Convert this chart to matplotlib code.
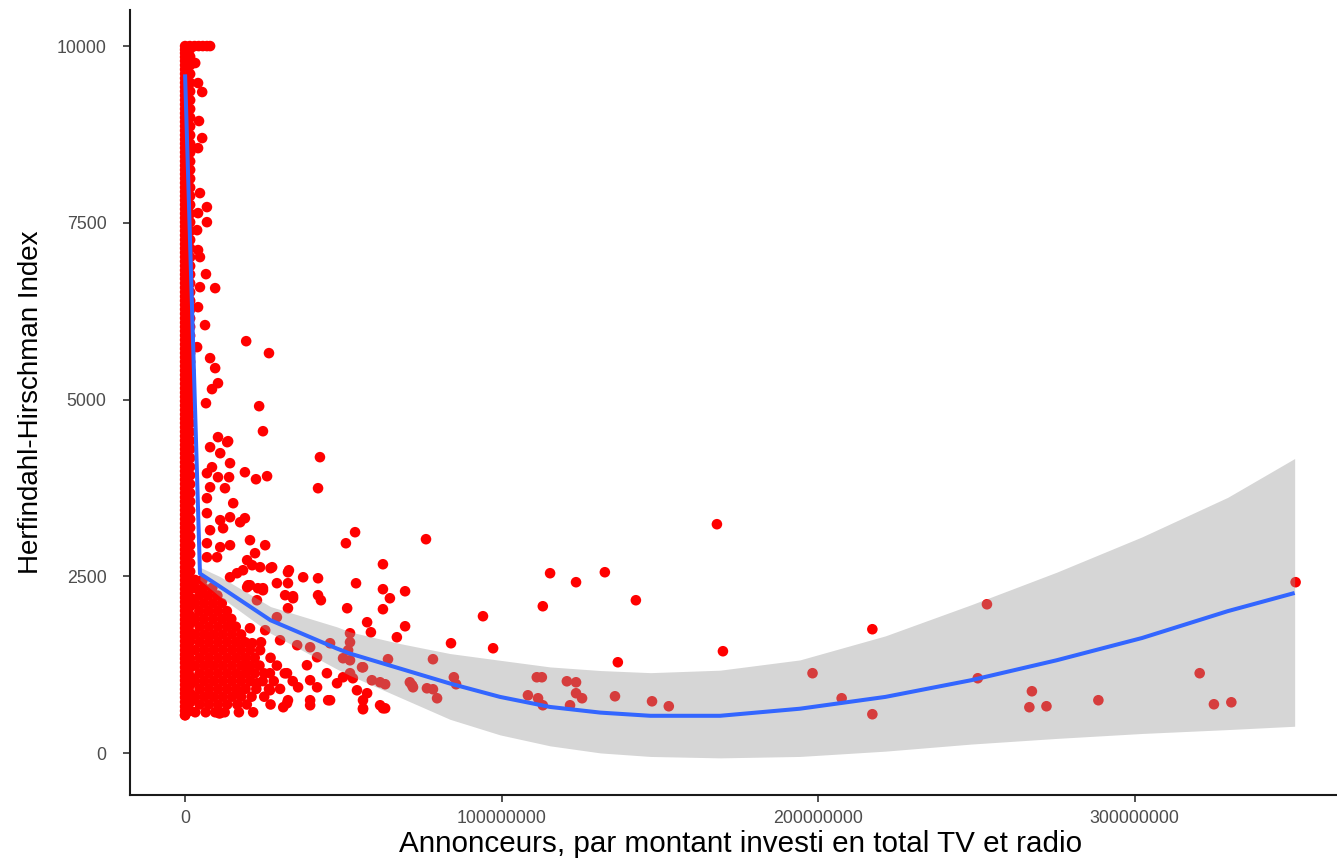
import numpy as np
import matplotlib
matplotlib.use("Agg")
import matplotlib.pyplot as plt
from matplotlib.ticker import FixedLocator, FuncFormatter

plt.rcParams['font.family'] = ['Liberation Sans', 'DejaVu Sans']

# ---- advertisers: total TV + radio spend (millions) vs HHI ----
# dense column of advertisers with almost no spend
col_x = [0.0] * 40 + [1.6] * 40
col_y = [540, 660, 790, 905, 1030, 1150, 1280, 1395, 1520, 1650, 1770, 1890, 2015, 2140,
         2260, 2385, 2510, 2630, 2760, 2880, 3005, 3130, 3250, 3375, 3500, 3620, 3745, 3870,
         3990, 4115, 4240, 4360, 4485, 4610, 4730, 4855, 4980, 5100, 5225, 5350,
         600, 720, 850, 965, 1090, 1210, 1340, 1455, 1580, 1710, 1830, 1950, 2075, 2200,
         2320, 2445, 2570, 2690, 2820, 2940, 3065, 3190, 3310, 3435, 3560, 3680, 3805, 3930,
         4050, 4175, 4300, 4420, 4545, 4670, 4790, 4915, 5040, 5160, 5285, 5410]
top_x = [0.0] * 38 + [1.6] * 37
top_y = [5475, 5600, 5720, 5845, 5970, 6090, 6215, 6340, 6460, 6585, 6710, 6830, 6955,
         7080, 7200, 7325, 7450, 7570, 7695, 7820, 7940, 8065, 8190, 8310, 8435, 8560,
         8680, 8805, 8930, 9050, 9175, 9300, 9420, 9545, 9670, 9790, 9900, 10000,
         5535, 5660, 5780, 5905, 6030, 6150, 6275, 6400, 6520, 6645, 6770, 6890, 7015,
         7140, 7260, 7385, 7510, 7630, 7755, 7880, 8000, 8125, 8250, 8370, 8495, 8620,
         8740, 8865, 8990, 9110, 9235, 9360, 9480, 9605, 9730, 9850, 9960]
# more zero-spend advertisers filling the same column
zero_y = [600, 725, 848, 968, 1090, 1215, 1338, 1458, 1585, 1710, 1830, 1952, 2078,
          2200, 2322, 2448, 2570, 2695, 2820, 2942, 3068, 3190, 3312, 3438, 3560, 3682,
          3808, 3930, 4052, 4178, 4300, 4422, 4548, 4670, 4792, 4918, 5040, 5162, 5288,
          5412, 5538, 5660, 5782, 5908, 6030, 6152, 6278, 6400, 6522, 6648, 6770, 6892,
          7018, 7140, 7262, 7388, 7510, 7632, 7758, 7880, 8002, 8128, 8250, 8372, 8498,
          8620, 8742, 8868, 8990, 9112, 9238, 9360, 9482, 9608, 9730, 9845, 9950]
zero_x = [0.0] * len(zero_y)

# packed block of small advertisers with lower concentration
block_x = [3.2, 5.5,
           3.2, 5.8, 8.6,
           4.5, 7.3, 10.2,
           3.2, 6.0, 8.8, 11.6,
           4.5, 7.4, 10.3, 13.2,
           3.2, 6.0, 8.9, 11.8, 14.6,
           4.6, 7.5, 10.4, 13.3, 16.0,
           3.2, 6.1, 9.0, 11.9, 14.8, 17.7,
           4.6, 7.5, 10.4, 13.3, 16.2, 19.0, 24.0,
           3.2, 6.1, 9.0, 11.9, 14.8, 17.6, 20.5,
           4.6, 7.5, 10.4, 13.3, 16.2, 19.1, 22.0, 27.0,
           3.2, 6.1, 9.0, 11.9, 14.8, 17.7, 20.6, 23.5, 29.0,
           4.6, 7.5, 10.4, 13.3, 16.2, 19.1, 22.0, 25.0, 31.5,
           3.2, 6.1, 9.0, 11.9, 14.8, 17.7, 20.6, 24.5, 28.0, 34.0,
           4.6, 7.5, 10.4, 13.3, 16.2, 19.1, 22.5, 26.5, 30.0,
           3.2, 6.1, 9.0, 11.9, 14.8, 17.7, 21.0, 25.0,
           4.6, 7.5, 10.4, 13.3, 16.5, 19.5, 27.0,
           3.2, 6.5, 9.5, 12.5, 17.0]
block_y = [2450, 2450,
           2340, 2340, 2340,
           2230, 2230, 2230,
           2120, 2120, 2120, 2120,
           2010, 2010, 2010, 2010,
           1900, 1900, 1900, 1900, 1900,
           1790, 1790, 1790, 1790, 1790,
           1680, 1680, 1680, 1680, 1680, 1680,
           1570, 1570, 1570, 1570, 1570, 1570, 1570,
           1460, 1460, 1460, 1460, 1460, 1460, 1460,
           1350, 1350, 1350, 1350, 1350, 1350, 1350, 1350,
           1240, 1240, 1240, 1240, 1240, 1240, 1240, 1240, 1240,
           1130, 1130, 1130, 1130, 1130, 1130, 1130, 1130, 1130,
           1020, 1020, 1020, 1020, 1020, 1020, 1020, 1020, 1020, 1020,
           910, 910, 910, 910, 910, 910, 910, 910, 910,
           800, 800, 800, 800, 800, 800, 800, 800,
           690, 690, 690, 690, 690, 690, 690,
           580, 580, 580, 580, 580]

# individual advertisers
pts_x = [1.5, 3.0, 4.3, 5.6, 6.9, 7.9,
         3.2, 4.1, 5.4, 4.4, 5.4, 4.1, 4.7, 6.9, 6.9, 4.1, 3.8, 4.1, 4.7, 6.6, 9.5, 4.7,
         4.1, 6.3, 3.8, 7.9, 9.5, 10.4, 8.5, 6.6, 13.3, 10.4, 7.9, 11.1, 14.2, 8.5, 6.9,
         10.4, 13.9, 7.9, 12.6, 6.9, 15.2, 6.9, 11.1, 14.2, 17.4, 18.9, 7.9, 12.0, 6.9,
         11.1, 14.2, 20.5, 25.3, 6.9, 10.1, 19.6, 22.1, 21.2, 23.7, 18.3, 14.2, 16.4,
         19.9, 24.6, 29.0, 32.8, 37.3, 27.5, 19.6, 23.0, 34.1,
         19.3, 26.5, 23.4, 24.6, 42.6, 42.0, 18.9, 22.4, 25.9, 13.6, 53.7, 50.8, 76.1,
         62.5, 54.0, 62.5, 64.7, 69.5, 62.5, 42.0, 42.0, 42.9, 51.2, 57.5, 69.5, 58.7,
         66.9, 52.1, 52.1, 51.5, 45.8, 94.1, 84.0, 97.3, 115.3, 113.0, 123.5, 132.6,
         142.4, 168.0, 169.9, 136.7, 135.8, 147.5, 152.8, 108.3, 111.1, 112.7, 111.5,
         113.0, 120.6, 123.5, 123.5, 125.4, 121.6, 64.1, 61.6, 63.2, 62.5, 71.0, 72.0,
         78.3, 84.9, 85.6, 76.4, 78.3, 79.6, 55.9, 53.0, 59.0, 71.7, 54.3, 57.5, 61.6,
         56.2, 63.2, 52.1, 49.9, 56.2, 39.5, 45.8, 32.2, 21.5, 10.7, 0.0,
         32.5, 27.0, 32.5, 20.5, 24.6, 22.7, 31.6, 34.1, 32.5, 29.0, 20.5, 21.2, 25.3,
         30.0, 35.4, 39.5, 41.7, 49.9, 38.5, 32.2, 26.8, 39.5, 44.8, 52.1, 56.2, 35.7,
         41.7, 48.0, 32.5, 39.5, 45.2, 11.1, 31.0, 56.2, 16.4, 22.7, 26.8, 23.7, 19.6,
         207.4, 217.1, 217.1, 198.2, 253.3, 250.4, 267.5, 266.7, 272.1, 288.5, 320.5,
         325.0, 330.5, 350.8]
pts_y = [10000, 10000, 10000, 10000, 10000, 10000,
         9760, 9477, 9350, 8940, 8699, 8557, 7921, 7723, 7510, 7638, 7397, 7115, 7016,
         6775, 6577, 6591, 6308, 6054, 5743, 5587, 5446, 5233, 5149, 4950, 4399, 4470,
         4328, 4243, 4102, 4045, 3960, 3904, 3904, 3762, 3748, 3607, 3536, 3395, 3296,
         3338, 3267, 3324, 3154, 3182, 2970, 2914, 2942, 3013, 2942, 2772, 2772, 2730,
         2829, 2659, 2631, 2588, 2489, 2546, 2376, 2334, 2405, 2588, 2489, 2631, 2348,
         2334, 2221,
         5827, 5658, 4908, 4554, 4187, 3748, 3974, 3875, 3918, 4413, 3126, 2970, 3027,
         2673, 2404, 2320, 2192, 2291, 2037, 2475, 2235, 2164, 2051, 1853, 1796, 1711,
         1641, 1570, 1697, 1457, 1556, 1938, 1556, 1485, 2546, 2079, 2419, 2560,
         2164, 3239, 1443, 1287, 806, 735, 665, 820, 1075, 1075, 778,
         679, 1018, 1004, 849, 778, 679, 1330, 1004, 976, 636, 1004, 933,
         1330, 1075, 976, 919, 905, 778, 1216, 1061, 1033, 962, 891, 849, 679,
         622, 636, 1315, 1075, 750, 679, 750, 707, 580, 566, 537,
         2560, 2617, 2405, 2376, 2305, 2164, 2235, 2192, 2051, 1924, 1768, 1556, 1740,
         1598, 1528, 1499, 1358, 1344, 1245, 1132, 1132, 1033, 1132, 1132, 1216, 933,
         933, 990, 750, 750, 750, 566, 651, 636, 849, 990, 891, 1457, 1216,
         778, 1754, 552, 1132, 2107, 1061, 877, 651, 665, 750, 1132,
         693, 721, 2419]

# smoothed trend with its confidence band
fit_x = [0, 4.7, 11, 27, 48, 52.1, 67.9, 83.7, 99.5, 115.3, 131.2, 147, 169, 194.2,
         221.2, 248.3, 275.3, 302.3, 329.4, 350.5]
fit_y = [9600, 2541, 2357, 1881, 1480, 1410, 1198, 986, 797, 655, 575, 530, 530, 630,
         797, 1033, 1315, 1630, 2010, 2267]
fit_hi = [9680, 2630, 2499, 2074, 1787, 1716, 1551, 1410, 1315, 1221, 1170, 1140, 1175,
          1320, 1660, 2100, 2560, 3060, 3620, 4168]
fit_lo = [9520, 2450, 2215, 1697, 1190, 1100, 790, 480, 260, 105, 5, -45, -65, -45,
          30, 130, 210, 280, 335, 382]

x_ticks = [0, 100000000, 200000000, 300000000]
y_ticks = [0, 2500, 5000, 7500, 10000]

M = 1e6
all_x = np.concatenate([col_x, top_x, zero_x, block_x, pts_x]) * M
all_y = np.concatenate([col_y, top_y, zero_y, block_y, pts_y])

fig = plt.figure(figsize=(13.37, 8.59), dpi=100)
# the panel runs slightly past the right edge of the canvas
ax = fig.add_axes([130 / 1337, 64 / 859, 1221 / 1337, 785 / 859])

ax.scatter(all_x, all_y, s=58, color='#FF0000', edgecolors='none', zorder=2)
ax.fill_between(np.array(fit_x) * M, fit_lo, fit_hi, color='#999999', alpha=0.4,
                linewidth=0, zorder=3)
ax.plot(np.array(fit_x) * M, fit_y, color='#3366FF', linewidth=2.9, zorder=4,
        solid_joinstyle='round', solid_capstyle='butt')

ax.set_xlim(-17.4e6, 368.3e6)
ax.set_ylim(-590, 10510)
ax.xaxis.set_major_locator(FixedLocator(x_ticks))
ax.yaxis.set_major_locator(FixedLocator(y_ticks))
ax.xaxis.set_major_formatter(FuncFormatter(lambda v, p: f"{int(round(v))}"))
ax.yaxis.set_major_formatter(FuncFormatter(lambda v, p: f"{int(round(v))}"))

for side in ['top', 'right']:
    ax.spines[side].set_visible(False)
for side in ['left', 'bottom']:
    ax.spines[side].set_linewidth(1.5)
    ax.spines[side].set_color('#1a1a1a')

ax.tick_params(axis='both', length=5, width=1.2, color='#333333',
               labelcolor='#4D4D4D', labelsize=12.8)
ax.tick_params(axis='y', pad=12)
ax.tick_params(axis='x', pad=6)

ax.set_xlabel("Annonceurs, par montant investi en total TV et radio", fontsize=21.3,
              color='black', labelpad=2)
ax.set_ylabel("Herfindahl-Hirschman Index", fontsize=20, color='black', labelpad=9)

fig.savefig("out.png", dpi=100)
